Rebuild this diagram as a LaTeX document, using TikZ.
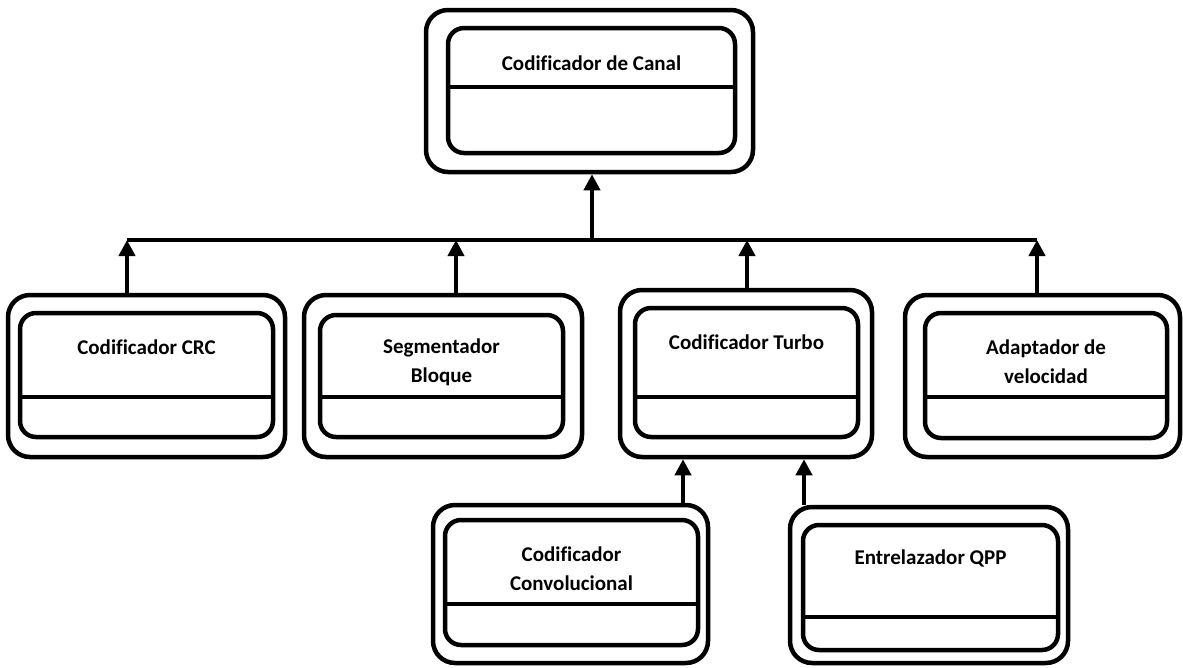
\documentclass[tikz,border=0pt]{standalone}
\usepackage{fontspec}
\setmainfont[Ligatures=CommonOff]{Carlito}
\usetikzlibrary{arrows.meta, positioning}
\tikzset{
  boxo/.style ={rectangle, draw, line width=4.5pt, rounded corners=22pt, inner sep=0pt},
  boxi/.style ={rectangle, draw, line width=4.5pt, rounded corners=16pt, inner sep=0pt},
  dv/.style   ={line width=4.5pt},
  txt/.style  ={align=center, font=\fontsize{21}{29}\selectfont\bfseries},
  bus/.style  ={line width=4.5pt},
  fl/.style   ={line width=4.5pt, -{Triangle[length=16pt, width=16pt]}},
}

\begin{document}
\begin{tikzpicture}[x=1pt, y=-1pt]
  \useasboundingbox (0,0) rectangle (1183,667);
  % Codificador de Canal
  \node[boxo, minimum width=327pt, minimum height=162pt] (canal) at (589.5,91) {};
  \node[boxi, minimum width=287pt, minimum height=125pt] (canalI) at (591.5,90.5) {};
  \draw[dv] (canalI.west |- 0,87) -- (canalI.east |- 0,87);
  \node[txt] (tcanal) at (591.5,63) {Codificador de Canal};
  % segundo nivel
  \node[boxo, minimum width=277pt, minimum height=162pt] (crc) at (146.5,376) {};
  \node[boxi, minimum width=253pt, minimum height=124pt] (crcI) at (146.5,375) {};
  \draw[dv] (crcI.west |- 0,397) -- (crcI.east |- 0,397);
  \node[txt] (tcrc) at (146.5,347) {Codificador CRC};

  \node[boxo, minimum width=278pt, minimum height=162pt] (seg) at (443,376) {};
  \node[boxi, minimum width=243pt, minimum height=122pt] (segI) at (441.5,376) {};
  \draw[dv] (segI.west |- 0,397) -- (segI.east |- 0,397);
  \node[txt] (tseg) at (441.5,362.5) {Segmentador\\Bloque};

  \node[boxo, minimum width=252pt, minimum height=167pt] (turbo) at (746,373.5) {};
  \node[boxi, minimum width=223pt, minimum height=129pt] (turboI) at (746.5,372.5) {};
  \draw[dv] (turboI.west |- 0,397) -- (turboI.east |- 0,397);
  \node[txt] (tturbo) at (746.5,342) {Codificador Turbo};

  \node[boxo, minimum width=275pt, minimum height=162pt] (adap) at (1042.5,376) {};
  \node[boxi, minimum width=242pt, minimum height=125pt] (adapI) at (1046,375.5) {};
  \draw[dv] (adapI.west |- 0,397) -- (adapI.east |- 0,397);
  \node[txt] (tadap) at (1046,362) {Adaptador de\\velocidad};
  % tercer nivel
  \node[boxo, minimum width=275pt, minimum height=158pt] (conv) at (570.5,584) {};
  \node[boxi, minimum width=253pt, minimum height=125pt] (convI) at (571.5,582.5) {};
  \draw[dv] (convI.west |- 0,604) -- (convI.east |- 0,604);
  \node[txt] (tconv) at (571.5,569) {Codificador\\Convolucional};

  \node[boxo, minimum width=278pt, minimum height=156pt] (entre) at (929,585) {};
  \node[boxi, minimum width=255pt, minimum height=125pt] (entreI) at (930.5,587.5) {};
  \draw[dv] (entreI.west |- 0,617) -- (entreI.east |- 0,617);
  \node[txt] (tentre) at (930.5,558) {Entrelazador QPP};
  % conexiones
  \coordinate (b1) at (127,240);
  \coordinate (b2) at (456,240);
  \coordinate (bc) at (592,240);
  \coordinate (b3) at (747,240);
  \coordinate (b4) at (1037,240);
  \coordinate (c1) at (683,0);
  \coordinate (c2) at (804,0);
  \draw[bus] (b1) -- (b4);
  \draw[fl] (bc) -- (bc |- canal.south);
  \draw[fl] (b1 |- crc.north) -- (b1);
  \draw[fl] (b2 |- seg.north) -- (b2);
  \draw[fl] (b3 |- turbo.north) -- (b3);
  \draw[fl] (b4 |- adap.north) -- (b4);
  \draw[fl] (conv.north -| c1) -- (turbo.south -| c1);
  \draw[fl] (entre.north -| c2) -- (turbo.south -| c2);
\end{tikzpicture}
\end{document}
